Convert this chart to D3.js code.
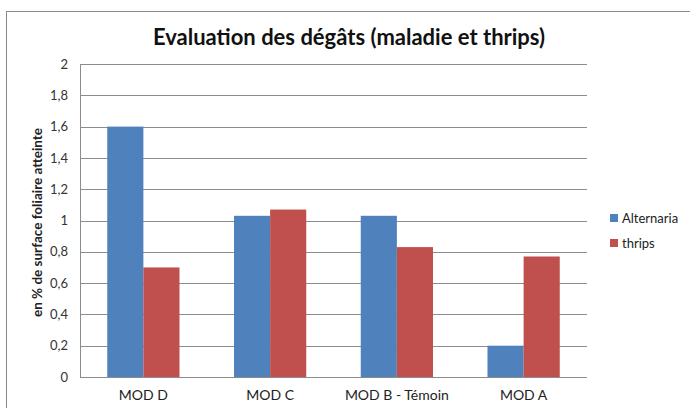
<!DOCTYPE html>
<html><head><meta charset="utf-8">
<script src="https://cdn.jsdelivr.net/npm/d3@7"></script>
<style>body{margin:0;background:#fff}svg{display:block}text{font-family:Lato,"Open Sans",sans-serif}</style>
</head><body>
<svg id="c" width="690" height="408"></svg>
<script>
const categories = ["MOD D", "MOD C", "MOD B - Témoin", "MOD A"];
const seriesNames = ["Alternaria", "thrips"];
const alternaria = [1.6, 1.03, 1.03, 0.2];
const thrips = [0.7, 1.07, 0.83, 0.77];
const yTicks = [0, 0.2, 0.4, 0.6, 0.8, 1, 1.2, 1.4, 1.6, 1.8, 2];
const colors = ["#4F81BD", "#C0504D"];

const svg = d3.select("#c");
svg.append("rect").attr("x", 6.5).attr("y", 11.5).attr("width", 700).attr("height", 420)
  .attr("fill", "#fff").attr("stroke", "#8a8a8a");

const L = 80, R = 587, T = 64, B = 377;
const x = d3.scaleBand().domain(categories).range([L, R]).paddingInner(0.43).paddingOuter(0.215);
const xs = d3.scaleBand().domain(seriesNames).range([0, x.bandwidth()]);
const y = d3.scaleLinear().domain([0, 2]).range([B, T]);

// gridlines
svg.append("g").selectAll("line").data(yTicks).join("line")
  .attr("x1", L).attr("x2", R).attr("y1", d => Math.round(y(d)) + 0.5).attr("y2", d => Math.round(y(d)) + 0.5)
  .attr("stroke", "#8c8c8c").attr("stroke-width", 1);

// y axis
const yAxis = d3.axisLeft(y).tickValues(yTicks).tickSize(0).tickPadding(12)
  .tickFormat(d => String(d).replace(".", ","));
const yg = svg.append("g").attr("transform", `translate(${L},0)`).call(yAxis);
yg.select(".domain").attr("stroke", "#8c8c8c").attr("d", `M0.5,${T}V${B}`);
yg.selectAll("text").attr("font-size", 13).attr("fill", "#333").attr("font-family", "Lato,sans-serif");

// bars
const data = categories.map((c, i) => ({ c, vals: [alternaria[i], thrips[i]] }));
const grp = svg.append("g").selectAll("g").data(data).join("g")
  .attr("transform", d => `translate(${x(d.c)},0)`);
grp.selectAll("rect").data(d => d.vals.map((v, j) => ({ v, s: seriesNames[j], j }))).join("rect")
  .attr("x", d => xs(d.s)).attr("width", xs.bandwidth())
  .attr("y", d => y(d.v)).attr("height", d => y(0) - y(d.v))
  .attr("fill", d => colors[d.j]);

// x axis
const xAxis = d3.axisBottom(x).tickSize(0).tickPadding(13);
const xg = svg.append("g").attr("transform", `translate(0,${B})`).call(xAxis);
xg.select(".domain").attr("stroke", "#8c8c8c").attr("d", `M${L},0.5H${R}`);
xg.selectAll("text").attr("font-size", 14).attr("fill", "#222").attr("font-family", "Lato,sans-serif");

// title
svg.append("text").attr("x", 349).attr("y", 45).attr("text-anchor", "middle")
  .attr("font-size", 22).attr("font-weight", "bold").attr("fill", "#111")
  .text("Evaluation des dégâts (maladie et thrips)");

// y label
svg.append("text").attr("transform", `translate(42,${(T + B) / 2 + 2}) rotate(-90)`)
  .attr("text-anchor", "middle").attr("font-size", 13.5).attr("font-weight", "bold").attr("fill", "#222")
  .text("en % de surface foliaire atteinte");

// legend
const lg = svg.append("g").selectAll("g").data(seriesNames).join("g")
  .attr("transform", (d, i) => `translate(610,${219 + i * 25})`);
lg.append("rect").attr("x", 0).attr("y", -5).attr("width", 8).attr("height", 8).attr("fill", (d, i) => colors[i]);
lg.append("text").attr("x", 12).attr("y", 4).attr("font-size", 13).attr("fill", "#222").text(d => d);
</script>
</body></html>
